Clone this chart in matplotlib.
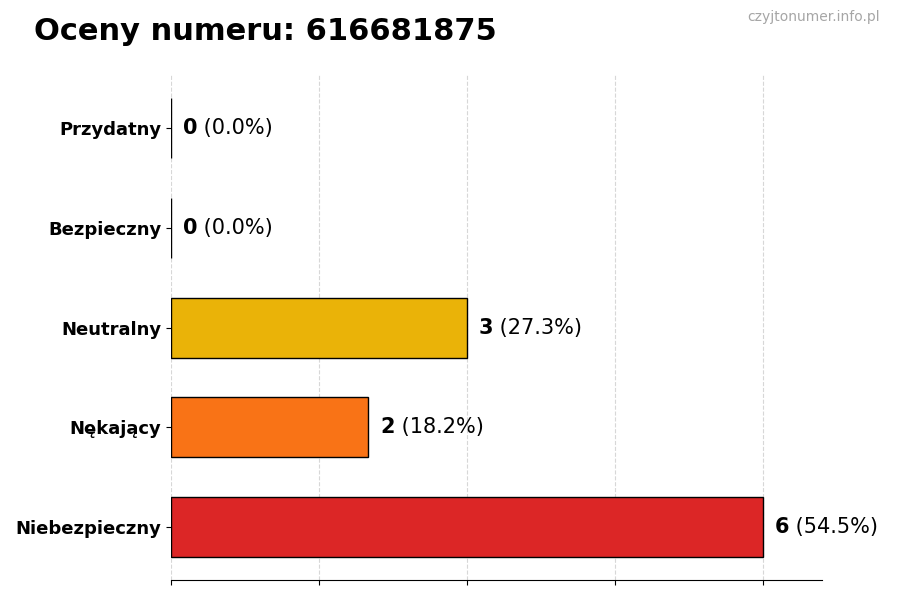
import matplotlib
matplotlib.use('Agg')
import matplotlib.pyplot as plt
import numpy as np

# Dane
numer = '616681875'
kategorie = ['Niebezpieczny', 'Nękający', 'Neutralny', 'Bezpieczny', 'Przydatny']
liczby = [6, 2, 3, 0, 0]
kolory = ['#DC2626', '#F97316', '#EAB308', '#3B82F6', '#22C55E']

suma = sum(liczby)
maks = max(liczby)

fig = plt.figure(figsize=(9, 6), dpi=100)
ax = fig.add_axes([0.19, 0.033, 0.723, 0.842])

y = np.arange(len(kategorie))
ax.barh(y, liczby, height=0.6, color=kolory, edgecolor='black', linewidth=1, zorder=3)

# Etykiety wartosci
for yi, n in zip(y, liczby):
    proc = n / suma * 100 if suma else 0
    t = ax.text(n + maks * 0.02, yi, f'{n}', fontsize=15, fontweight='bold',
                va='center', ha='left', zorder=4)
    ax.annotate(f' ({proc:.1f}%)', xy=(1, 0.5), xycoords=t, va='center', ha='left',
                fontsize=15)

ax.set_yticks(y)
ax.set_yticklabels(kategorie, fontsize=13, fontweight='bold')
ax.set_xlim(0, maks * 1.1)
ax.set_xticks(np.linspace(0, maks, 5))
ax.set_xticklabels([])
ax.grid(axis='x', linestyle='--', alpha=0.5, zorder=0)
ax.set_axisbelow(True)

for s in ['top', 'right', 'left']:
    ax.spines[s].set_visible(False)

fig.text(0.038, 0.948, f'Oceny numeru: {numer}', fontsize=22, fontweight='bold',
         ha='left', va='center')
fig.text(0.978, 0.971, 'czyjtonumer.info.pl', fontsize=10, color='gray', alpha=0.7,
         ha='right', va='center')

plt.savefig('out.png', dpi=100)
